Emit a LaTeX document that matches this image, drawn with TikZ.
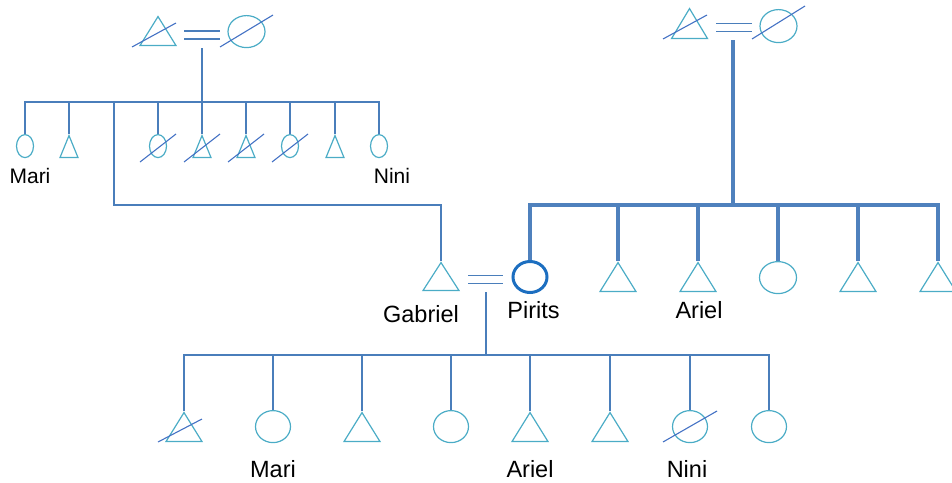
\documentclass[tikz,border=0pt]{standalone}
\usepackage{fontspec}
\setmainfont{Liberation Sans}
\usepackage{tikz}
\usetikzlibrary{shapes.geometric,calc}

\definecolor{shapeblue}{RGB}{75,172,198}
\definecolor{lineblue}{RGB}{74,126,187}
\definecolor{barblue}{RGB}{79,129,189}
\definecolor{piritsblue}{RGB}{28,110,192}
\definecolor{slashblue}{RGB}{68,114,196}

\begin{document}
\begin{tikzpicture}[x=1pt,y=1pt,yscale=-1,xscale=1,
  male/.style={isosceles triangle,isosceles triangle stretches,shape border rotate=90,draw=shapeblue,line width=1.2,inner sep=0,minimum width=36,minimum height=29,anchor=apex},
  female/.style={ellipse,draw=shapeblue,line width=1.2,inner sep=0,minimum width=37,minimum height=32,anchor=north},
  boy/.style={male,minimum width=18,minimum height=22},
  girl/.style={female,minimum width=17,minimum height=23},
  dead/.style={draw=slashblue,line width=1.1},
  kin/.style={draw=lineblue,line width=1.3},
  kinb/.style={draw=barblue,line width=3.2},
  wed/.style={draw=lineblue,line width=1.1,double=white,double distance=6.9},
  lbl/.style={font=\fontsize{23.5}{28}\selectfont,anchor=base,inner sep=0},
  lblsm/.style={font=\fontsize{21}{25}\selectfont,anchor=base,inner sep=0}]
\useasboundingbox (0,0) rectangle (952,482);

%Shape: Triangle
\node[male] (gfa) at (158,15) {};
\draw[dead] ($(gfa.apex)+(-26,32)$) -- ($(gfa.apex)+(18,8)$);
%Shape: Ellipse
\node[female] (gma) at (246.5,15) {};
\draw[dead] ($(gma.north)+(-26.5,32)$) -- ($(gma.north)+(26.5,0)$);
%Double Lines
\draw[wed] ($(gfa.apex)+(26,20)$) -- ($(gma.north)+(-26.5,20)$);
\coordinate (ua) at (202,48);
\coordinate (ba) at (202,102);
\draw[kin] (ua) -- (ba);

%Shape: first row of children
\node[girl] (ca1) at (25,134) {};
\node[boy] (ca2) at (69,134) {};
\node[girl] (ca3) at (158,134) {};
\node[boy] (ca4) at (202,134) {};
\node[boy] (ca5) at (246,134) {};
\node[girl] (ca6) at (290,134) {};
\node[boy] (ca7) at (335,134) {};
\node[girl] (ca8) at (379,134) {};
\draw[dead] ($(ca3.north)+(-18,28)$) -- ($(ca3.north)+(18,0)$);
\draw[dead] ($(ca4.apex)+(-18,28)$) -- ($(ca4.apex)+(18,0)$);
\draw[dead] ($(ca5.apex)+(-18,28)$) -- ($(ca5.apex)+(18,0)$);
\draw[dead] ($(ca6.north)+(-18,28)$) -- ($(ca6.north)+(18,0)$);

%Straight Lines
\draw[kin] (ca1.north) |- (ba) -| (ca8.north);
\draw[kin] (ca2.apex) -- (ca2.apex |- ba);
\draw[kin] (ca3.north) -- (ca3.north |- ba);
\draw[kin] (ca4.apex) -- (ca4.apex |- ba);
\draw[kin] (ca5.apex) -- (ca5.apex |- ba);
\draw[kin] (ca6.north) -- (ca6.north |- ba);
\draw[kin] (ca7.apex) -- (ca7.apex |- ba);

%Shape: Triangle
\node[male,minimum height=28] (gab) at (441,261) {};
\coordinate (lnk) at (114,205);
\draw[kin] (gab.apex) |- (lnk) -- (lnk |- ba);

%Shape: Ellipse
\node[female,draw=piritsblue,line width=3,minimum width=34,minimum height=31] (pir) at (530,260) {};
\draw[wed] ($(gab.apex)+(27,18.5)$) -- ($(pir.north)+(-27,19.5)$);

%Shape: Triangle
\node[male,minimum height=30] (gfb) at (689.5,7) {};
\draw[dead] ($(gfb.apex)+(-26.5,32)$) -- ($(gfb.apex)+(17.5,8)$);
%Shape: Ellipse
\node[female,minimum height=33] (gmb) at (778.5,9) {};
\draw[dead] ($(gmb.north)+(-26.5,30)$) -- ($(gmb.north)+(26.5,-3)$);
\draw[wed] ($(gfb.apex)+(26.5,20.5)$) -- ($(gmb.north)+(-26.5,18.5)$);
\coordinate (ub) at (733,40);
\coordinate (bb) at (733,205);
\draw[kinb] (ub) -- (bb);

%Shape: second row of children
\node[male] (cb2) at (618,261) {};
\node[male] (cb3) at (698,261) {};
\node[female] (cb4) at (778,261) {};
\node[male] (cb5) at (858,261) {};
\node[male] (cb6) at (938,261) {};
\draw[kinb] (pir.north) |- (bb) -| (cb6.apex);
\draw[kinb] (cb2.apex) -- (cb2.apex |- bb);
\draw[kinb] (cb3.apex) -- (cb3.apex |- bb);
\draw[kinb] (cb4.north) -- (cb4.north |- bb);
\draw[kinb] (cb5.apex) -- (cb5.apex |- bb);

%Straight Lines
\coordinate (uc) at (486,292);
\coordinate (bc) at (486,355);
\draw[kin] (uc) -- (bc);

%Shape: third row of children
\node[male] (cc1) at (184,411) {};
\node[female,minimum width=35] (cc2) at (273,410) {};
\node[male] (cc3) at (362,411) {};
\node[female,minimum width=35] (cc4) at (451,410) {};
\node[male] (cc5) at (530,411) {};
\node[male] (cc6) at (610,411) {};
\node[female,minimum width=35] (cc7) at (690,410) {};
\node[female,minimum width=35] (cc8) at (769,410) {};
\draw[dead] ($(cc1.apex)+(-26,31)$) -- ($(cc1.apex)+(18,8)$);
\draw[dead] ($(cc7.north)+(-27,32)$) -- ($(cc7.north)+(27,1)$);
\draw[kin] (cc1.apex) |- (bc) -| (cc8.north);
\draw[kin] (cc2.north) -- (cc2.north |- bc);
\draw[kin] (cc3.apex) -- (cc3.apex |- bc);
\draw[kin] (cc4.north) -- (cc4.north |- bc);
\draw[kin] (cc5.apex) -- (cc5.apex |- bc);
\draw[kin] (cc6.apex) -- (cc6.apex |- bc);
\draw[kin] (cc7.north) -- (cc7.north |- bc);

% Text Node
\node[lblsm] (mari1) at (30,183) {Mari};
% Text Node
\node[lblsm] (nini1) at (392,183) {Nini};
% Text Node
\node[lbl] (gabl) at (421,322) {Gabriel};
% Text Node
\node[lbl] (pirl) at (533.5,318) {Pirits};
% Text Node
\node[lbl] (ariel1) at (699,318) {Ariel};
% Text Node
\node[lbl] (mari2) at (273,477) {Mari};
% Text Node
\node[lbl] (ariel2) at (530,477) {Ariel};
% Text Node
\node[lbl] (nini2) at (687,477) {Nini};

\end{tikzpicture}
\end{document}
